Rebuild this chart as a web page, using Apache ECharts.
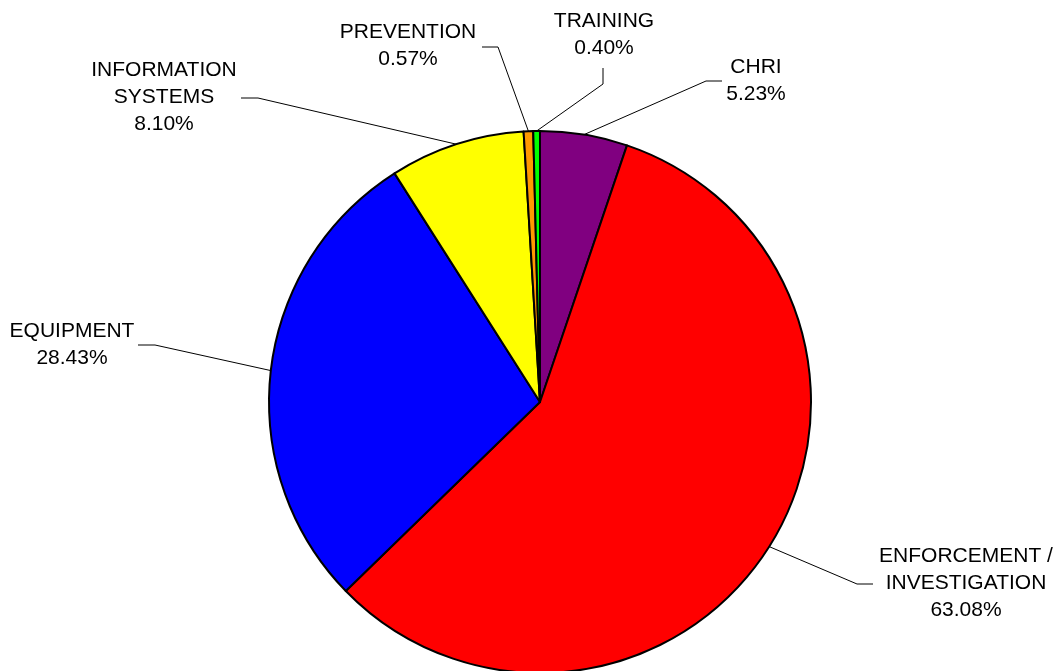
<!DOCTYPE html>
<html><head><meta charset="utf-8">
<script src="https://cdn.jsdelivr.net/npm/echarts@6/dist/echarts.min.js"></script>
<style>html,body{margin:0;padding:0;background:#fff}#c{width:1058px;height:671px}</style>
</head><body><div id="c"></div>
<script>
const categories = ['CHRI', 'ENFORCEMENT /\nINVESTIGATION', 'EQUIPMENT', 'INFORMATION\nSYSTEMS', 'PREVENTION', 'TRAINING'];
const sliceValues = [5.23, 57.85, 28.43, 8.10, 0.57, 0.40];
const labelPercents = ['5.23%', '63.08%', '28.43%', '8.10%', '0.57%', '0.40%'];

// Styles / layout
const sliceColors = ['#800080', '#FF0000', '#0000FF', '#FFFF00', '#FF9900', '#00FF00'];
const CX = 540, CY = 402, R = 271;
const labelSpots = [
  { x: 756, y: 81,  elbow: [706, 81],  tail: [722, 81] },
  { x: 966, y: 583, elbow: [857, 584], tail: [873, 584] },
  { x: 72,  y: 345, elbow: [155, 345], tail: [138, 345] },
  { x: 164, y: 97,  elbow: [258, 98],  tail: [241, 98] },
  { x: 408, y: 46,  elbow: [498, 47],  tail: [482, 47] },
  { x: 604, y: 35,  elbow: [603, 84],  tail: [603, 68] }
];

const total = sliceValues.reduce((a, b) => a + b, 0);
function edgePoint(i) {
  let cum = 0;
  for (let k = 0; k < i; k++) cum += sliceValues[k];
  const theta = (cum + sliceValues[i] / 2) / total * 2 * Math.PI;
  return [CX + R * Math.sin(theta), CY - R * Math.cos(theta)];
}

const chart = echarts.init(document.getElementById('c'), null, { renderer: 'canvas' });
chart.setOption({
  animation: false,
  backgroundColor: '#ffffff',
  series: [{
    type: 'pie',
    center: [CX, CY],
    radius: [0, R],
    startAngle: 90,
    clockwise: true,
    avoidLabelOverlap: false,
    minShowLabelAngle: 0,
    itemStyle: { borderColor: '#000', borderWidth: 2 },
    emphasis: { disabled: true },
    label: {
      show: true,
      position: 'outside',
      formatter: p => p.name + '\n' + labelPercents[p.dataIndex],
      fontFamily: 'Liberation Sans, Arial, sans-serif',
      fontSize: 21,
      lineHeight: 27,
      color: '#000',
      align: 'center'
    },
    labelLine: { show: true, length: 10, length2: 10, lineStyle: { color: '#000', width: 1 } },
    labelLayout: function (params) {
      const i = params.dataIndex;
      const s = labelSpots[i];
      return {
        x: s.x, y: s.y,
        align: 'center', verticalAlign: 'middle',
        labelLinePoints: [edgePoint(i), s.elbow, s.tail]
      };
    },
    data: categories.map((c, i) => ({
      name: c,
      value: sliceValues[i],
      itemStyle: { color: sliceColors[i] }
    }))
  }]
});
</script>
</body></html>
